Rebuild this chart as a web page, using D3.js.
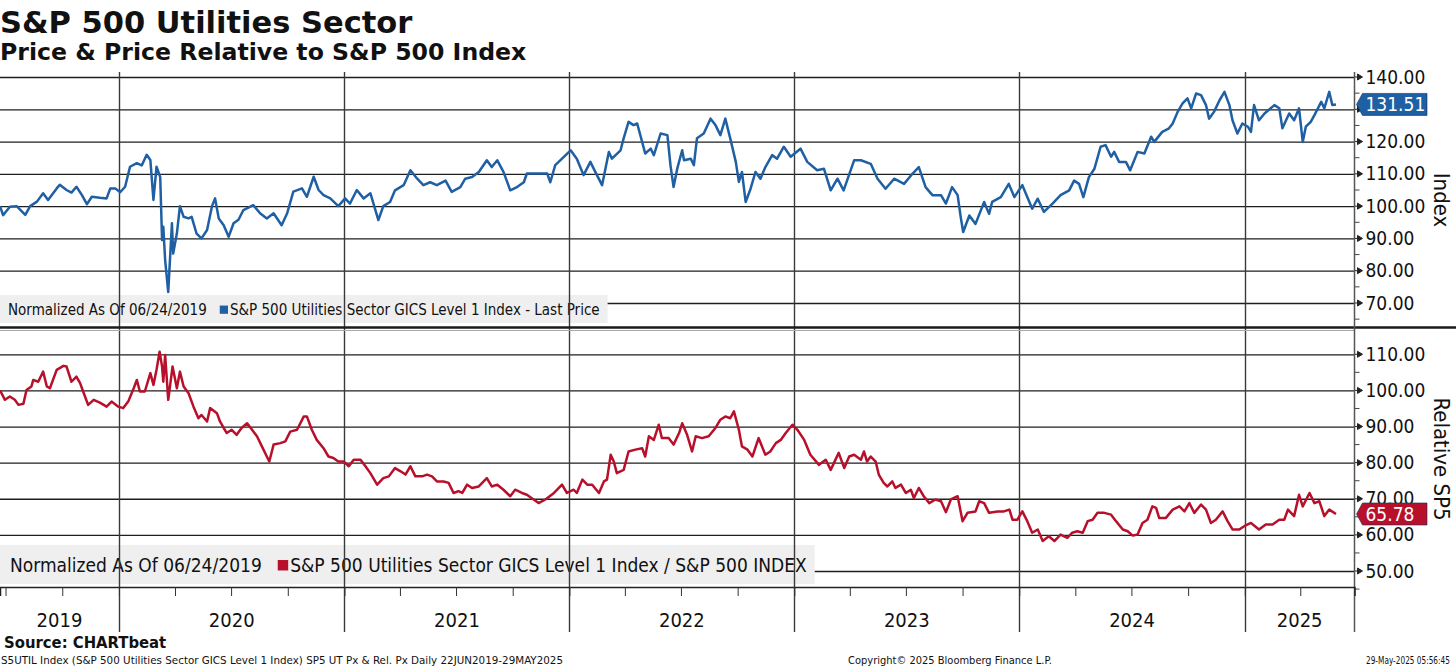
<!DOCTYPE html>
<html><head><meta charset="utf-8">
<script src="https://cdn.jsdelivr.net/npm/d3@7"></script>
<style>
body{margin:0;background:#fff}
svg{display:block}
text{font-family:"DejaVu Sans Condensed","DejaVu Sans",sans-serif;fill:#111}
</style>
</head><body>
<svg id="c" width="1456" height="668"></svg>
<script>
// ---------------- DATA ----------------
const priceSeries = [
["2019-06-22",100.0],["2019-06-27",97.2],["2019-07-08",99.8],["2019-07-19",100.0],["2019-08-02",97.3],["2019-08-10",100.0],
["2019-08-21",101.4],["2019-08-31",104.0],["2019-09-08",101.9],["2019-09-22",105.5],["2019-09-27",106.6],["2019-10-08",105.0],
["2019-10-16",104.2],["2019-10-24",106.0],["2019-11-02",103.4],["2019-11-10",100.6],["2019-11-18",102.9],["2019-12-01",102.6],
["2019-12-12",102.4],["2019-12-18",105.5],["2019-12-26",105.5],["2020-01-03",104.3],["2020-01-11",106.0],["2020-01-19",112.2],
["2020-01-30",113.3],["2020-02-07",112.6],["2020-02-15",115.9],["2020-02-21",114.3],["2020-02-26",101.9],["2020-03-02",112.2],
["2020-03-08",109.0],["2020-03-11",89.5],["2020-03-13",93.6],["2020-03-16",83.3],["2020-03-21",73.4],["2020-03-27",94.7],
["2020-03-29",85.3],["2020-04-04",91.5],["2020-04-09",100.0],["2020-04-15",96.7],["2020-04-23",96.2],["2020-04-28",96.7],
["2020-05-06",91.5],["2020-05-14",90.0],["2020-05-23",92.6],["2020-05-31",100.0],["2020-06-05",102.4],["2020-06-11",96.2],
["2020-06-19",94.1],["2020-06-27",90.5],["2020-07-05",94.7],["2020-07-13",95.8],["2020-07-21",98.8],["2020-08-06",100.3],
["2020-08-17",97.8],["2020-08-28",96.2],["2020-09-08",97.8],["2020-09-21",94.1],["2020-09-30",97.8],["2020-10-10",104.5],
["2020-10-24",105.5],["2020-11-01",102.9],["2020-11-12",109.1],["2020-11-20",105.0],["2020-11-28",103.4],["2020-12-09",102.4],
["2020-12-22",100.0],["2021-01-02",102.4],["2021-01-10",100.8],["2021-01-21",105.0],["2021-02-01",102.4],["2021-02-12",104.0],
["2021-02-25",95.7],["2021-03-05",100.0],["2021-03-16",101.3],["2021-03-24",104.9],["2021-04-07",106.5],["2021-04-18",111.1],
["2021-04-29",108.5],["2021-05-09",106.5],["2021-05-20",107.4],["2021-05-31",106.5],["2021-06-14",107.9],["2021-06-24",104.4],
["2021-07-08",105.9],["2021-07-16",108.5],["2021-07-27",109.0],["2021-08-07",110.6],["2021-08-20",114.2],["2021-08-28",112.1],
["2021-09-06",114.2],["2021-09-16",110.6],["2021-09-27",104.9],["2021-10-08",105.9],["2021-10-19",107.4],["2021-10-24",110.1],
["2021-11-10",110.1],["2021-11-26",110.1],["2021-12-01",107.4],["2021-12-09",112.7],["2021-12-20",114.7],["2022-01-03",117.3],
["2022-01-13",114.7],["2022-01-24",109.6],["2022-02-04",113.7],["2022-02-12",110.6],["2022-02-23",106.5],["2022-03-06",116.8],
["2022-03-11",114.7],["2022-03-25",117.3],["2022-03-30",121.0],["2022-04-07",126.1],["2022-04-15",125.1],["2022-04-21",125.6],
["2022-04-29",119.9],["2022-05-04",116.3],["2022-05-13",117.8],["2022-05-18",115.8],["2022-05-29",122.5],["2022-06-09",122.0],
["2022-06-14",112.7],["2022-06-19",105.9],["2022-06-25",111.6],["2022-07-03",117.3],["2022-07-06",114.2],["2022-07-17",114.7],
["2022-07-22",112.7],["2022-07-27",121.0],["2022-08-07",122.5],["2022-08-18",127.1],["2022-08-26",125.1],["2022-09-03",122.0],
["2022-09-11",127.1],["2022-09-19",121.0],["2022-09-28",113.7],["2022-10-03",107.5],["2022-10-08",110.6],["2022-10-14",101.3],
["2022-10-22",105.4],["2022-10-30",110.6],["2022-11-07",108.5],["2022-11-15",112.1],["2022-11-26",115.8],["2022-12-04",114.7],
["2022-12-15",118.4],["2022-12-26",115.3],["2023-01-11",117.8],["2023-01-22",113.7],["2023-02-07",111.1],["2023-02-18",111.6],
["2023-03-01",104.9],["2023-03-12",108.5],["2023-03-22",104.9],["2023-04-08",114.2],["2023-04-19",114.2],["2023-05-05",113.1],
["2023-05-16",108.5],["2023-05-29",105.4],["2023-06-12",108.5],["2023-06-28",106.9],["2023-07-12",110.1],["2023-07-22",112.1],
["2023-08-02",105.9],["2023-08-13",103.4],["2023-08-27",103.4],["2023-09-04",100.8],["2023-09-14",105.9],["2023-09-23",103.4],
["2023-09-28",96.6],["2023-10-02",92.0],["2023-10-12",97.1],["2023-10-22",94.5],["2023-11-05",101.3],["2023-11-13",97.6],
["2023-11-18",101.3],["2023-12-02",102.8],["2023-12-15",106.9],["2023-12-24",102.8],["2024-01-06",106.5],["2024-01-22",99.2],
["2024-01-31",102.3],["2024-02-10",98.2],["2024-02-24",100.8],["2024-03-08",103.4],["2024-03-22",104.9],["2024-03-30",107.9],
["2024-04-07",106.9],["2024-04-14",102.8],["2024-04-23",109.0],["2024-05-02",111.6],["2024-05-12",118.4],["2024-05-20",118.9],
["2024-05-29",115.3],["2024-06-03",116.8],["2024-06-11",113.7],["2024-06-22",113.7],["2024-06-29",111.1],["2024-07-11",116.8],
["2024-07-22",116.3],["2024-08-02",121.5],["2024-08-07",119.9],["2024-08-20",123.0],["2024-08-31",124.1],["2024-09-06",125.6],
["2024-09-14",129.2],["2024-09-22",131.8],["2024-09-30",133.4],["2024-10-06",130.3],["2024-10-14",134.9],["2024-10-22",134.4],
["2024-10-30",131.3],["2024-11-04",127.1],["2024-11-12",129.2],["2024-11-21",132.8],["2024-11-29",135.4],["2024-12-07",131.3],
["2024-12-12",126.6],["2024-12-20",122.5],["2024-12-28",125.6],["2025-01-06",124.6],["2025-01-11",123.0],["2025-01-16",131.3],
["2025-01-24",126.6],["2025-02-02",128.7],["2025-02-18",131.3],["2025-02-26",130.3],["2025-03-03",124.1],["2025-03-14",128.7],
["2025-03-22",126.6],["2025-03-30",130.3],["2025-04-05",119.9],["2025-04-10",124.6],["2025-04-18",126.1],["2025-04-24",128.2],
["2025-05-05",132.3],["2025-05-10",130.3],["2025-05-18",135.4],["2025-05-23",131.3],["2025-05-29",131.51]
];
const relativeSeries = [
["2019-06-22",100.0],["2019-06-30",97.4],["2019-07-08",98.3],["2019-07-16",97.4],["2019-07-22",96.0],["2019-07-30",96.3],
["2019-08-04",100.1],["2019-08-12",101.1],["2019-08-15",102.9],["2019-08-23",102.4],["2019-08-31",105.2],["2019-09-06",101.1],
["2019-09-11",100.6],["2019-09-22",105.7],["2019-10-03",106.8],["2019-10-08",106.6],["2019-10-16",102.4],["2019-10-24",103.8],
["2019-10-30",102.0],["2019-11-02",100.6],["2019-11-12",96.0],["2019-11-21",97.4],["2019-12-01",96.6],["2019-12-12",95.5],
["2019-12-20",96.9],["2019-12-31",95.5],["2020-01-08",95.1],["2020-01-16",96.9],["2020-01-25",100.6],["2020-01-30",102.9],
["2020-02-04",99.7],["2020-02-12",99.7],["2020-02-21",104.8],["2020-02-26",101.5],["2020-03-02",105.7],["2020-03-07",110.7],
["2020-03-11",106.6],["2020-03-13",102.4],["2020-03-16",109.8],["2020-03-21",97.4],["2020-03-28",106.6],["2020-04-04",100.6],
["2020-04-09",105.2],["2020-04-15",101.1],["2020-04-23",99.2],["2020-05-01",95.5],["2020-05-09",92.3],["2020-05-14",93.2],
["2020-05-23",91.4],["2020-05-28",95.1],["2020-06-08",93.7],["2020-06-13",91.4],["2020-06-19",89.6],["2020-06-24",88.2],
["2020-07-02",89.1],["2020-07-10",87.7],["2020-07-18",89.6],["2020-07-27",90.9],["2020-08-04",89.1],["2020-08-12",87.3],
["2020-08-20",84.5],["2020-08-28",81.7],["2020-09-01",80.3],["2020-09-08",85.0],["2020-09-19",85.4],["2020-09-27",85.9],
["2020-10-05",88.6],["2020-10-16",89.1],["2020-10-27",92.8],["2020-11-01",92.8],["2020-11-09",89.1],["2020-11-17",86.3],
["2020-11-28",84.0],["2020-12-06",81.7],["2020-12-14",81.3],["2020-12-22",80.3],["2020-12-31",80.3],["2021-01-08",79.0],
["2021-01-16",80.8],["2021-01-27",80.8],["2021-02-04",79.0],["2021-02-12",77.1],["2021-02-23",73.9],["2021-03-05",75.7],
["2021-03-14",76.2],["2021-03-24",78.5],["2021-04-02",77.6],["2021-04-10",76.7],["2021-04-18",79.0],["2021-04-26",76.2],
["2021-05-07",76.2],["2021-05-15",76.7],["2021-05-23",76.2],["2021-05-31",74.8],["2021-06-11",74.8],["2021-06-19",74.4],
["2021-06-27",71.6],["2021-07-05",72.1],["2021-07-11",71.6],["2021-07-19",73.9],["2021-07-27",73.0],["2021-08-07",73.4],
["2021-08-20",75.7],["2021-08-28",73.4],["2021-09-06",73.9],["2021-09-16",72.5],["2021-09-27",70.7],["2021-10-05",72.5],
["2021-10-16",71.6],["2021-10-24",71.1],["2021-11-04",69.8],["2021-11-12",68.8],["2021-11-23",69.8],["2021-12-07",71.6],
["2021-12-20",73.9],["2021-12-28",71.6],["2022-01-08",72.5],["2022-01-13",71.6],["2022-01-22",75.3],["2022-01-30",73.9],
["2022-02-07",73.9],["2022-02-18",71.6],["2022-02-26",74.8],["2022-03-03",75.3],["2022-03-09",82.2],["2022-03-14",80.3],
["2022-03-19",77.1],["2022-03-30",78.0],["2022-04-07",83.1],["2022-04-18",83.6],["2022-04-29",84.0],["2022-05-04",81.7],
["2022-05-10",87.3],["2022-05-18",86.3],["2022-05-26",90.5],["2022-05-31",86.8],["2022-06-11",86.8],["2022-06-19",85.0],
["2022-06-28",88.2],["2022-07-03",90.9],["2022-07-11",87.7],["2022-07-19",83.1],["2022-07-25",87.3],["2022-08-04",86.8],
["2022-08-15",87.3],["2022-08-26",89.6],["2022-09-03",91.9],["2022-09-11",92.8],["2022-09-19",92.3],["2022-09-25",94.2],
["2022-10-03",89.1],["2022-10-08",84.5],["2022-10-17",83.6],["2022-10-25",81.7],["2022-11-04",86.8],["2022-11-15",82.2],
["2022-11-23",83.1],["2022-12-02",85.4],["2022-12-10",86.3],["2022-12-18",88.2],["2022-12-29",90.5],["2023-01-06",89.1],
["2023-01-17",86.3],["2023-01-27",82.2],["2023-02-10",79.4],["2023-02-21",80.8],["2023-03-01",78.0],["2023-03-14",82.7],
["2023-03-23",78.5],["2023-03-31",81.7],["2023-04-08",82.2],["2023-04-19",80.8],["2023-04-24",83.1],["2023-04-29",80.3],
["2023-05-05",81.7],["2023-05-13",80.3],["2023-05-18",76.7],["2023-05-26",74.4],["2023-06-01",73.4],["2023-06-09",74.8],
["2023-06-14",73.0],["2023-06-23",73.9],["2023-07-01",71.6],["2023-07-09",72.5],["2023-07-14",70.2],["2023-07-22",73.0],
["2023-07-30",70.7],["2023-08-08",68.8],["2023-08-18",69.8],["2023-08-27",69.3],["2023-09-04",66.3],["2023-09-12",69.8],
["2023-09-23",70.7],["2023-10-01",63.8],["2023-10-09",66.1],["2023-10-22",66.5],["2023-10-28",69.3],["2023-11-05",68.8],
["2023-11-13",66.1],["2023-11-27",66.5],["2023-12-07",66.5],["2023-12-16",67.0],["2023-12-21",64.2],["2023-12-29",64.2],
["2024-01-06",66.5],["2024-01-14",63.8],["2024-01-22",60.6],["2024-01-31",61.5],["2024-02-08",58.3],["2024-02-18",59.6],
["2024-02-27",58.3],["2024-03-08",60.1],["2024-03-19",59.2],["2024-03-27",60.6],["2024-04-04",61.0],["2024-04-13",60.6],
["2024-04-21",63.8],["2024-04-29",64.2],["2024-05-07",66.1],["2024-05-18",66.1],["2024-05-29",65.6],["2024-06-06",63.8],
["2024-06-17",61.5],["2024-06-25",61.0],["2024-07-03",59.8],["2024-07-11",60.1],["2024-07-19",63.3],["2024-07-27",64.2],
["2024-08-04",67.9],["2024-08-10",67.5],["2024-08-15",64.7],["2024-08-26",64.7],["2024-09-06",67.0],["2024-09-17",67.9],
["2024-09-25",66.5],["2024-10-03",68.8],["2024-10-11",66.1],["2024-10-22",68.4],["2024-10-30",67.0],["2024-11-07",63.3],
["2024-11-15",64.2],["2024-11-26",66.5],["2024-12-04",63.8],["2024-12-12",61.5],["2024-12-23",61.5],["2024-12-31",62.4],
["2025-01-11",63.3],["2025-01-24",61.5],["2025-02-04",62.9],["2025-02-15",62.9],["2025-02-26",64.2],["2025-03-06",64.2],
["2025-03-12",67.0],["2025-03-22",65.2],["2025-03-30",71.1],["2025-04-05",67.9],["2025-04-16",71.6],["2025-04-24",68.8],
["2025-05-02",69.3],["2025-05-10",65.2],["2025-05-18",67.0],["2025-05-29",65.78]
];
const topTicks = [70,80,90,100,110,120,130,140];
const topLabels = [70,80,90,100,110,120,140];
const bottomTicks = [50,60,70,80,90,100,110];
const bottomLabels = [50,60,70,80,90,100,110];
const yearLabels = ["2019","2020","2021","2022","2023","2024","2025"];
const domainStart = "2019-06-22", domainEnd = "2025-06-28";
const lastPrice = 131.51, lastRelative = 65.78;

// ---------------- LAYOUT ----------------
const parse = d3.timeParse("%Y-%m-%d");
const AX = 1354.5;             // right axis x
const x = d3.scaleTime().domain([parse(domainStart), parse(domainEnd)]).range([0, AX]);
const yTop = d3.scaleLinear().domain([70,140]).range([303,77]);
const yBot = d3.scaleLinear().domain([50,110]).range([571,354.3]);
const BLUE = "#1f5fa3", RED = "#b8102b";
const svg = d3.select("#c");

const defs = svg.append("defs");
defs.append("clipPath").attr("id","cTop").append("rect").attr("x",0).attr("y",72).attr("width",AX).attr("height",254);
defs.append("clipPath").attr("id","cBot").append("rect").attr("x",0).attr("y",330).attr("width",AX).attr("height",257);

// titles
svg.append("text").attr("x",0).attr("y",33).style("font-family","DejaVu Sans").style("font-weight","bold")
  .style("font-size","30.5px").text("S&P 500 Utilities Sector");
svg.append("text").attr("x",0).attr("y",60).style("font-family","DejaVu Sans").style("font-weight","bold")
  .style("font-size","23.6px").text("Price & Price Relative to S&P 500 Index");

// horizontal gridlines + right axis labels
function yAxis(scale, ticks, labels, g){
  const ax = d3.axisRight(scale).tickValues(ticks).tickSize(-AX).tickPadding(11)
    .tickFormat(d => labels.includes(d) ? d3.format(".2f")(d) : "");
  g.attr("transform",`translate(${AX},0)`).call(ax);
  g.select(".domain").remove();
  g.selectAll(".tick line").attr("stroke","#1e1e1e").attr("stroke-width",1.3);
  g.selectAll(".tick text").style("font-size","19px").style("font-family","DejaVu Sans Condensed").attr("fill","#111");
}
const gTopGrid = svg.append("g"); yAxis(yTop, topTicks, topLabels, gTopGrid);
const gBotGrid = svg.append("g"); yAxis(yBot, bottomTicks, bottomLabels, gBotGrid);

// minor ticks and arrow ticks on right axis
function axisMarks(scale, ticks, lo, hi){
  const minors = d3.range(lo, hi+0.1, 5).filter(v => !ticks.includes(v));
  svg.append("g").selectAll("line").data(minors).join("line")
    .attr("x1",AX).attr("x2",AX+5).attr("y1",d=>scale(d)).attr("y2",d=>scale(d))
    .attr("stroke","#444").attr("stroke-width",1);
  svg.append("g").selectAll("path").data(ticks).join("path")
    .attr("d",d=>{const y=scale(d);return `M${AX},${y}H${AX+4}M${AX+3},${y-3}L${AX+8},${y}L${AX+3},${y+3}Z`;})
    .attr("stroke","#222").attr("stroke-width",1).attr("fill","#222");
}
axisMarks(yTop, topTicks, 65, 140);
axisMarks(yBot, bottomTicks, 45, 110);

// legend boxes (drawn over horizontal grid)
function legend(yTopBox, h, fs, baseline, pre, label, color, gapSq){
  const g = svg.append("g");
  const bg = g.append("rect").attr("x",0).attr("y",yTopBox).attr("height",h).attr("fill","#efefef");
  const t1 = g.append("text").attr("x",gapSq.left).attr("y",baseline).style("font-size",fs+"px").text(pre);
  const w1 = t1.node().getComputedTextLength();
  const sqx = gapSq.left + w1 + gapSq.gap;
  const sq = fs*0.55;
  g.append("rect").attr("x",sqx).attr("y",baseline - sq - fs*0.08).attr("width",sq).attr("height",sq).attr("fill",color);
  const t2 = g.append("text").attr("x",sqx+sq+2).attr("y",baseline).style("font-size",fs+"px").text(label);
  const w2 = t2.node().getComputedTextLength();
  bg.attr("width", sqx+sq+2+w2+gapSq.right);
}
legend(295, 28, 15, 315, "Normalized As Of 06/24/2019", "S&P 500 Utilities Sector GICS Level 1 Index - Last Price", BLUE, {left:8,gap:13,right:8});
legend(545, 39, 19, 572, "Normalized As Of 06/24/2019", "S&P 500 Utilities Sector GICS Level 1 Index / S&P 500 INDEX", RED, {left:10,gap:16,right:8});

// vertical year lines
const yearStarts = d3.timeYear.range(d3.timeYear.ceil(x.domain()[0]), x.domain()[1]);
svg.append("g").selectAll("line").data(yearStarts).join("line")
  .attr("x1",d=>Math.round(x(d))+0.5).attr("x2",d=>Math.round(x(d))+0.5).attr("y1",72).attr("y2",632)
  .attr("stroke","#3a3a3a").attr("stroke-width",1.4);

// series
const line = (ys) => d3.line().x(d=>x(parse(d[0]))).y(d=>ys(d[1]));
svg.append("path").datum(priceSeries).attr("clip-path","url(#cTop)")
  .attr("d",line(yTop)).attr("fill","none").attr("stroke",BLUE).attr("stroke-width",2.5).attr("stroke-linejoin","round");
svg.append("path").datum(relativeSeries).attr("clip-path","url(#cBot)")
  .attr("d",line(yBot)).attr("fill","none").attr("stroke",RED).attr("stroke-width",2.5).attr("stroke-linejoin","round");

// panel separator
svg.append("line").attr("x1",0).attr("x2",1456).attr("y1",327.5).attr("y2",327.5).attr("stroke","#1a1a1a").attr("stroke-width",2.5);
svg.append("line").attr("x1",0).attr("x2",AX).attr("y1",330.5).attr("y2",330.5).attr("stroke","#aaa").attr("stroke-width",1);

// right axis line
svg.append("line").attr("x1",AX).attr("x2",AX).attr("y1",72).attr("y2",632).attr("stroke","#555").attr("stroke-width",1.5);

// x axis
const xAxis = d3.axisBottom(x).ticks(d3.timeMonth.every(3)).tickSize(9).tickFormat("");
const gx = svg.append("g").attr("transform","translate(0,587)").call(xAxis);
gx.select(".domain").attr("stroke","#222").attr("stroke-width",1.5);
gx.selectAll(".tick line").attr("stroke","#333");

// year labels
const d0 = x.domain()[0], d1 = x.domain()[1];
svg.append("g").selectAll("text").data(yearLabels).join("text")
  .attr("x", d => { const a = d3.max([parse(d+"-01-01"), d0]); const b = d3.min([parse((+d+1)+"-01-01"), d1]); return (x(a)+x(b))/2; })
  .attr("y", 627).attr("text-anchor","middle").style("font-size","20px").text(d=>d);

// last value tags
function tag(val, scale, color){
  const y = scale(val);
  svg.append("path").attr("d",`M${AX+2},${y}L${AX+8},${y-11}H1427V${y+11}H${AX+8}Z`).attr("fill",color).attr("stroke","#0d2f55").attr("stroke-width",0.6);
  svg.append("text").attr("x",AX+11).attr("y",y+7).style("font-size","19px").style("fill","#fff").text(d3.format(".2f")(val));
}
tag(lastPrice, yTop, BLUE);
tag(lastRelative, yBot, RED);

// axis titles
svg.append("text").attr("transform",`translate(1434,200) rotate(90)`).attr("text-anchor","middle").style("font-size","22px").text("Index");
svg.append("text").attr("transform",`translate(1434,459) rotate(90)`).attr("text-anchor","middle").style("font-size","22px").text("Relative SP5");

// footer
svg.append("text").attr("x",4).attr("y",648).style("font-weight","bold").style("font-size","16.5px").text("Source: CHARTbeat");
function narrowText(x0, y0, fs, width, str){
  const t = svg.append("text").style("font-size",fs+"px").text(str);
  const w = t.node().getComputedTextLength();
  t.attr("transform",`translate(${x0},${y0}) scale(${width/w},1)`);
}
narrowText(1, 664, 11, 562, "S5UTIL Index (S&P 500 Utilities Sector GICS Level 1 Index) SP5 UT Px & Rel. Px  Daily 22JUN2019-29MAY2025");
narrowText(848, 664, 11, 204, "Copyright© 2025 Bloomberg Finance L.P.");
narrowText(1366, 664, 11, 84, "29-May-2025 05:56:45");
</script>
</body></html>
